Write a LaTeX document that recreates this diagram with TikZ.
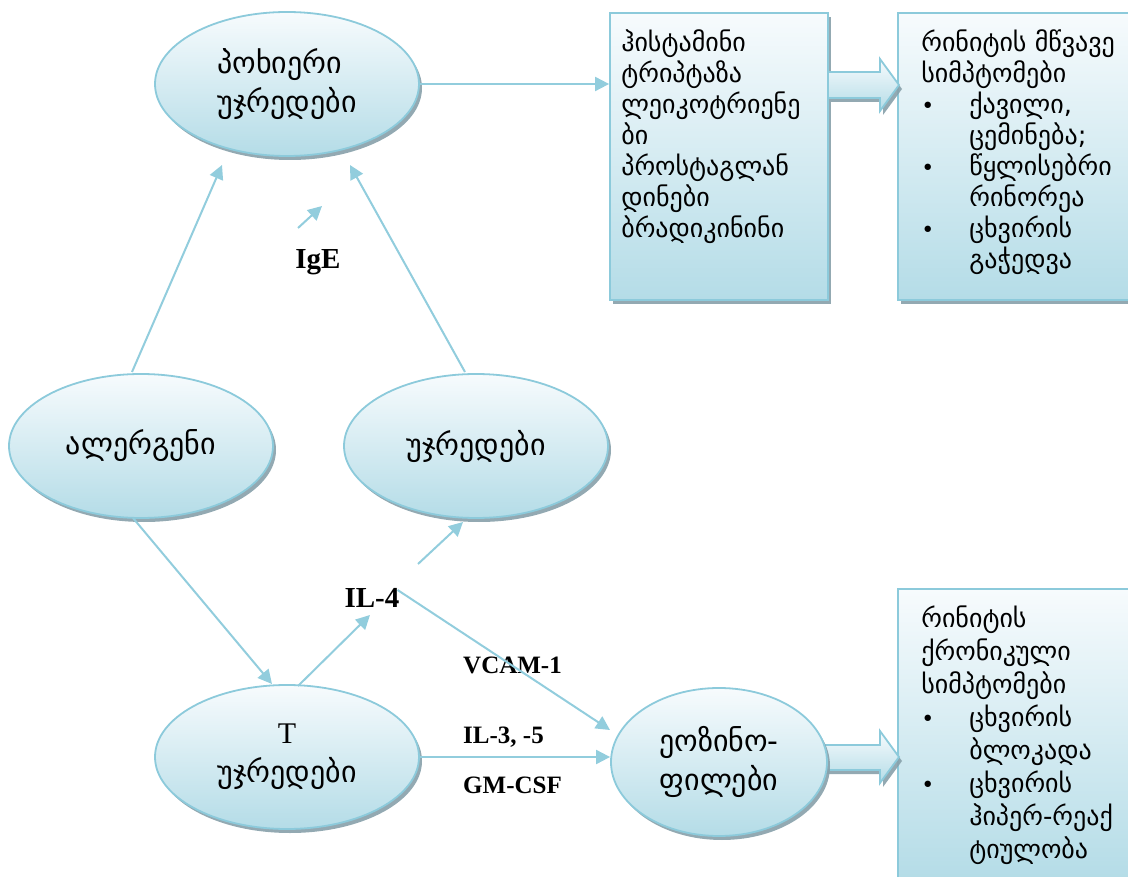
\documentclass[tikz,border=0pt]{standalone}
\usepackage{fontspec}
\setmainfont{Liberation Serif}
\newfontfamily\geo{DejaVu Sans}
\newfontfamily\tms{Liberation Serif}
\usetikzlibrary{shapes.geometric,arrows.meta,shadows,calc}
\definecolor{bordc}{RGB}{140,202,219}
\definecolor{topc}{RGB}{247,251,253}
\definecolor{botc}{RGB}{180,220,231}
\definecolor{shadc}{RGB}{135,160,170}
\definecolor{linec}{RGB}{146,205,221}
\newcommand{\bul}{\makebox[48pt][l]{\fontsize{22}{22}\selectfont •}}
\newcommand{\ind}{\hspace*{48pt}}
\begin{document}
\begin{tikzpicture}[x=1pt,y=-1pt,
  shade/.style={draw=bordc, line width=1.8pt, top color=topc, bottom color=botc,
    drop shadow={shadow xshift=3pt, shadow yshift=-4pt, fill=shadc, opacity=0.9}},
  oval/.style={shade, ellipse, minimum width=264pt, minimum height=144pt, inner sep=0pt,
    align=center, font=\geo\fontsize{30}{39}\selectfont},
  box/.style={shade, rectangle, inner sep=0pt},
  txt/.style={inner sep=0pt, align=left, anchor=north west, font=\geo\fontsize{26}{31}\selectfont},
  conn/.style={draw=linec, line width=2pt, -{Triangle[length=14pt,width=14pt]}},
  lab/.style={font=\tms\bfseries\fontsize{25}{30}\selectfont, inner sep=0pt},
  biglab/.style={font=\tms\bfseries\fontsize{29}{34}\selectfont, inner sep=0pt},
  barrow/.style={shade}
]
\useasboundingbox (0,0) rectangle (1128,877);

% boxes
\node[box, minimum width=218pt, minimum height=287pt] (hist) at (719,156.5) {};
\node[box, minimum width=234pt, minimum height=287pt] (acute) at (1015,156.5) {};
\node[box, minimum width=234pt, minimum height=291pt] (chronic) at (1015,734.5) {};

% block arrows
\path[barrow] (828,72) -- (880,72) -- (880,59) -- (899,85) -- (880,111) -- (880,98) -- (828,98) -- cycle;
\path[barrow] (812,745) -- (880,745) -- (880,731) -- (899,757) -- (880,783) -- (880,770) -- (812,770) -- cycle;

% ovals
\node[oval, align=left] (pox) at (287,84) {პოხიერი\\უჯრედები};
\node[oval] (allergen) at (141,446) {ალერგენი};
\node[oval] (cells) at (476,446) {უჯრედები};
\node[oval] (tcell) at (287,757) {{\tms T}\\უჯრედები};
\node[oval, minimum width=216pt, minimum height=148pt] (eos) at (719,762) {ეოზინო-\\ფილები};

% box texts
\node[txt] (histtxt) at ($(hist.north west)+(12,17)$)
  {ჰისტამინი\\ტრიპტაზა\\ლეიკოტრიენე\\ბი\\პროსტაგლან\\დინები\\ბრადიკინინი};
\node[txt] (acutetxt) at ($(acute.north west)+(24,17)$)
  {რინიტის მწვავე\\სიმპტომები\\\bul ქავილი,\\\ind ცემინება;\\\bul წყლისებრი\\\ind რინორეა\\\bul ცხვირის\\\ind გაჭედვა};
\node[txt, font=\geo\fontsize{26}{33}\selectfont] (chrtxt) at ($(chronic.north west)+(24,18)$)
  {რინიტის\\ქრონიკული\\სიმპტომები\\\bul ცხვირის\\\ind ბლოკადა\\\bul ცხვირის\\\ind ჰიპერ-რეაქ\\\ind ტიულობა};

% labels
\node[biglab] (ige) at (318,262) {IgE};
\node[biglab] (il4) at (372,598) {IL-4};
\node[lab, anchor=west] (vcam) at (463,665) {VCAM-1};
\node[lab, anchor=west] (il35) at (463,737) {IL-3, -5};
\node[lab, anchor=west] (gmcsf) at (463,785) {GM-CSF};

% connectors
\draw[conn] (pox.east) -- (pox.east -| hist.west);
\draw[conn] ($(allergen.center)+(-9,-74)$) -- ($(pox.center)+(-65,81)$);
\draw[conn] ($(cells.center)+(-11,-74)$) -- ($(pox.center)+(63,81)$);
\coordinate (igeA) at ($(ige.center)+(-20,-34)$);
\draw[conn] (igeA) -- ++(24,-22);
\draw[conn] ($(allergen.center)+(-8,72)$) -- ($(tcell.center)+(-15,-73)$);
\draw[conn] ($(tcell.center)+(11,-71)$) -- ($(il4.center)+(-2,17)$);
\draw[conn] ($(il4.center)+(46,-34)$) -- ($(cells.center)+(-13,76)$);
\draw[conn] ($(il4.east)+(-2,-8)$) -- ($(eos.center)+(-109,-32)$);
\draw[conn] (tcell.east) -- (tcell.east -| eos.west);
\end{tikzpicture}
\end{document}
